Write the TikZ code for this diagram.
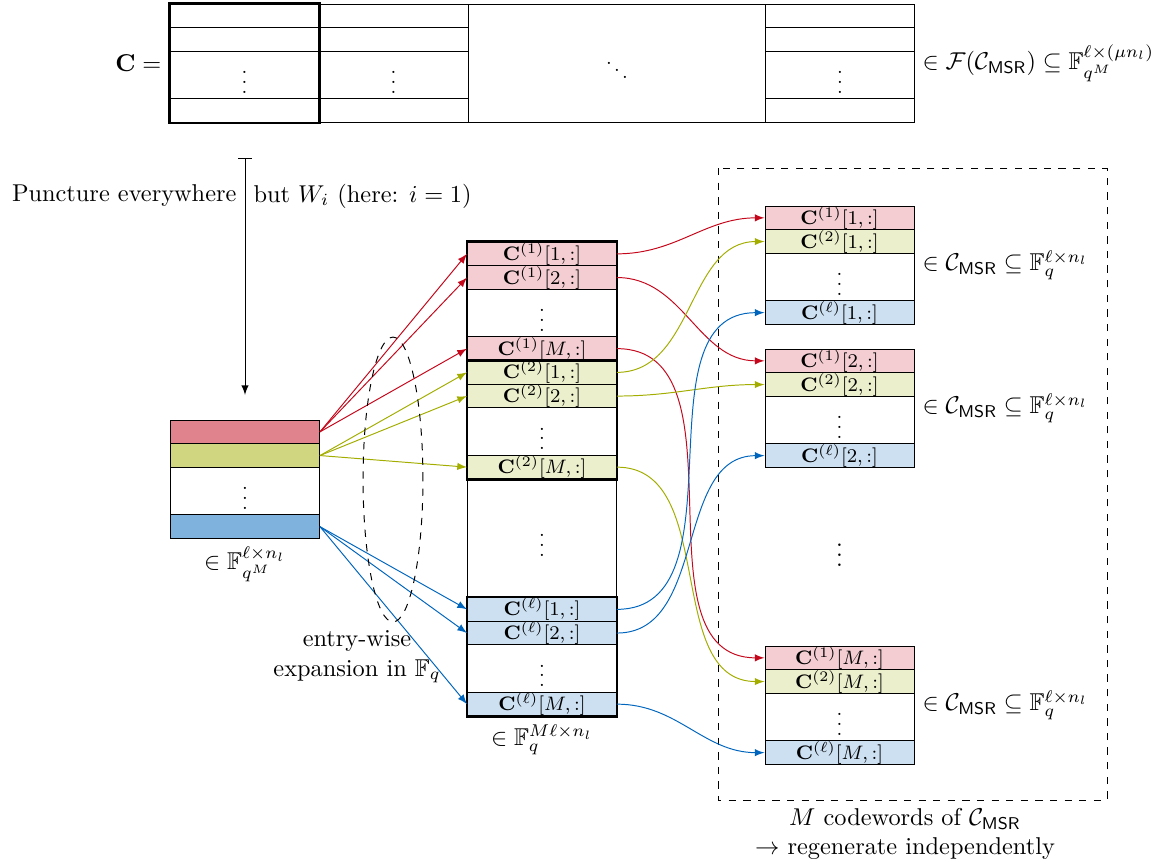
\documentclass[tikz,border=0pt]{standalone}
\usepackage{amsmath,amssymb}

\definecolor{colred}{RGB}{196,7,27}
\definecolor{colgreen}{RGB}{162,173,0}
\definecolor{colblue}{RGB}{0,101,189}

\begin{document}
\begin{tikzpicture}[x=0.4108pt, y=-0.4108pt,
    cell/.style={draw, minimum width=61.2pt, minimum height=9.74pt, inner sep=0pt, font=\footnotesize},
    dotcell/.style={cell, minimum height=19.47pt}]
    \useasboundingbox (0,0) rectangle (1158,868);

    % codeword matrix C
    \node (CC) at (170, 63.25) [left] {$\mathbf{C} =$};
    \node (C11) at (244.5, 15.85) [cell] {};
    \node (C12) at (244.5, 39.55) [cell] {};
    \node (C1D) at (244.5, 75.1) [dotcell] {$\vdots$};
    \node (C1N) at (244.5, 110.65) [cell] {};
    \node (C21) at (393.5, 15.85) [cell] {};
    \node (C22) at (393.5, 39.55) [cell] {};
    \node (C2D) at (393.5, 75.1) [dotcell] {$\vdots$};
    \node (C2N) at (393.5, 110.65) [cell] {};
    \node (C3) at (617, 63.25) [cell, minimum width=122.4pt, minimum height=48.68pt] {$\ddots$};
    \node (C41) at (840, 15.85) [cell] {};
    \node (C42) at (840, 39.55) [cell] {};
    \node (C4D) at (840, 75.1) [dotcell] {$\vdots$};
    \node (C4N) at (840, 110.65) [cell] {};
    \draw[very thick] (C11.north west) rectangle (C1N.south east);
    \node (CF) at (914, 63.25) [right] {$\in \mathcal{F}(\mathcal{C}_{\mathsf{MSR}}) \subseteq \mathbb{F}_{q^M}^{\ell\times(\mu n_l)}$};

    %-----

    \coordinate (P0) at (245, 158);
    \coordinate (P1) at (245, 395);
    \draw[|-latex] (P0) -- (P1)
        node[pos=0.16, left] {Puncture everywhere}
        node[pos=0.16, right] {but $W_i$ (here: $i=1$)};

    \node (L1) at (245, 431.85) [cell, fill=colred!50] {};
    \node (L2) at (245, 455.55) [cell, fill=colgreen!50] {};
    \node (LD) at (245, 491.1) [dotcell] {$\vdots$};
    \node (LL) at (245, 526.65) [cell, fill=colblue!50] {};
    \node (LF) at (245, 538.5) [below] {$\in \mathbb{F}_{q^M}^{\ell\times n_l}$};

    %-----

    \node (V11) at (542, 253.85) [cell, fill=colred!20] {$\mathbf{C}^{(1)}[1,:]$};
    \node (V12) at (542, 277.55) [cell, fill=colred!20] {$\mathbf{C}^{(1)}[2,:]$};
    \node (V1D) at (542, 313.1) [dotcell] {$\vdots$};
    \node (V1M) at (542, 348.65) [cell, fill=colred!20] {$\mathbf{C}^{(1)}[M,:]$};
    \node (V21) at (542, 372.35) [cell, fill=colgreen!20] {$\mathbf{C}^{(2)}[1,:]$};
    \node (V22) at (542, 396.05) [cell, fill=colgreen!20] {$\mathbf{C}^{(2)}[2,:]$};
    \node (V2D) at (542, 431.6) [dotcell] {$\vdots$};
    \node (V2M) at (542, 467.15) [cell, fill=colgreen!20] {$\mathbf{C}^{(2)}[M,:]$};
    \node (VD) at (542, 538.25) [cell, minimum height=48.68pt] {$\vdots$};
    \node (VL1) at (542, 609.35) [cell, fill=colblue!20] {$\mathbf{C}^{(\ell)}[1,:]$};
    \node (VL2) at (542, 633.05) [cell, fill=colblue!20] {$\mathbf{C}^{(\ell)}[2,:]$};
    \node (VLD) at (542, 668.6) [dotcell] {$\vdots$};
    \node (VLM) at (542, 704.15) [cell, fill=colblue!20] {$\mathbf{C}^{(\ell)}[M,:]$};
    \draw[very thick] (V11.north west) rectangle (V1M.south east);
    \draw[very thick] (V21.north west) rectangle (V2M.south east);
    \draw[very thick] (VL1.north west) rectangle (VLM.south east);
    \node (VF) at (542, 716) [below] {$\in \mathbb{F}_q^{M\ell\times n_l}$};

    \path[colred, -latex] (L1.east) edge (V11.west) edge (V12.west) edge (V1M.west);
    \path[colgreen, -latex] (L2.east) edge (V21.west) edge (V22.west) edge (V2M.west);
    \path[colblue, -latex] (LL.east) edge (VL1.west) edge (VL2.west) edge (VLM.west);

    \draw[dashed] (393, 479.5) ellipse [x radius=12.3pt, y radius=58.5pt];
    \node (EX) at (357, 657) [align=center] {entry-wise\\expansion in $\mathbb{F}_q$};

    %-----

    \node (W11) at (839.5, 217.85) [cell, fill=colred!20] {$\mathbf{C}^{(1)}[1,:]$};
    \node (W12) at (839.5, 241.55) [cell, fill=colgreen!20] {$\mathbf{C}^{(2)}[1,:]$};
    \node (W1D) at (839.5, 277.1) [dotcell] {$\vdots$};
    \node (W1L) at (839.5, 312.65) [cell, fill=colblue!20] {$\mathbf{C}^{(\ell)}[1,:]$};
    \node (W1F) at (914, 265.25) [right] {$\in \mathcal{C}_{\mathsf{MSR}} \subseteq \mathbb{F}_q^{\ell\times n_l}$};

    \node (W21) at (839.5, 360.85) [cell, fill=colred!20] {$\mathbf{C}^{(1)}[2,:]$};
    \node (W22) at (839.5, 384.55) [cell, fill=colgreen!20] {$\mathbf{C}^{(2)}[2,:]$};
    \node (W2D) at (839.5, 420.1) [dotcell] {$\vdots$};
    \node (W2L) at (839.5, 455.65) [cell, fill=colblue!20] {$\mathbf{C}^{(\ell)}[2,:]$};
    \node (W2F) at (914, 408.25) [right] {$\in \mathcal{C}_{\mathsf{MSR}} \subseteq \mathbb{F}_q^{\ell\times n_l}$};

    \node (WD) at (839.5, 548) {$\vdots$};

    \node (WM1) at (839.5, 657.85) [cell, fill=colred!20] {$\mathbf{C}^{(1)}[M,:]$};
    \node (WM2) at (839.5, 681.55) [cell, fill=colgreen!20] {$\mathbf{C}^{(2)}[M,:]$};
    \node (WMD) at (839.5, 717.1) [dotcell] {$\vdots$};
    \node (WML) at (839.5, 752.65) [cell, fill=colblue!20] {$\mathbf{C}^{(\ell)}[M,:]$};
    \node (WMF) at (914, 705.25) [right] {$\in \mathcal{C}_{\mathsf{MSR}} \subseteq \mathbb{F}_q^{\ell\times n_l}$};

    \draw[dashed] (718, 168) rectangle (1107, 800);
    \node (WT) at (905, 800) [below, align=center] {$M$ codewords of $\mathcal{C}_{\mathsf{MSR}}$\\$\rightarrow$ regenerate independently};

    \draw[colred, -latex] (V11.east) to[out=0, in=180] (W11.west);
    \draw[colred, -latex] (V12.east) to[out=0, in=180] (W21.west);
    \draw[colred, -latex] (V1M.east) to[out=0, in=180] (WM1.west);
    \draw[colgreen, -latex] (V21.east) to[out=0, in=180] (W12.west);
    \draw[colgreen, -latex] (V22.east) to[out=0, in=180] (W22.west);
    \draw[colgreen, -latex] (V2M.east) to[out=0, in=180] (WM2.west);
    \draw[colblue, -latex] (VL1.east) to[out=0, in=180] (W1L.west);
    \draw[colblue, -latex] (VL2.east) to[out=0, in=180] (W2L.west);
    \draw[colblue, -latex] (VLM.east) to[out=0, in=180] (WML.west);
\end{tikzpicture}
\end{document}
